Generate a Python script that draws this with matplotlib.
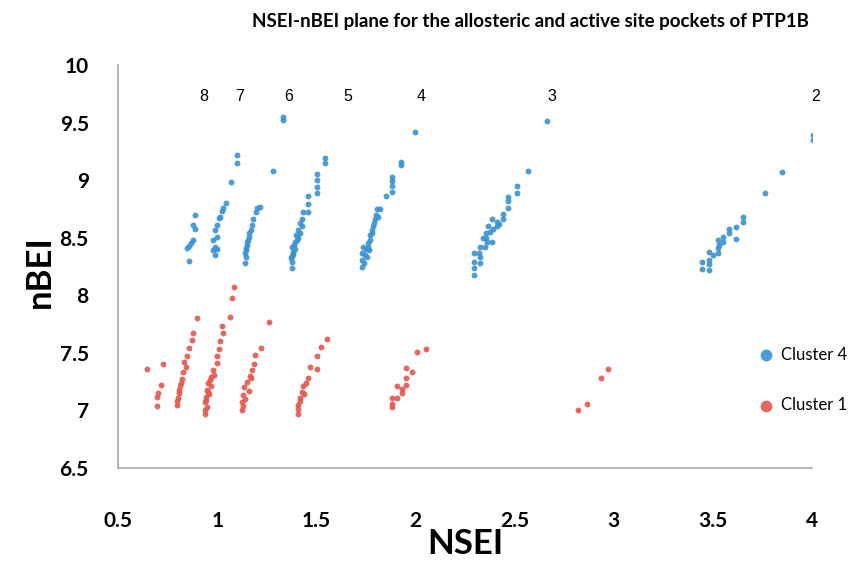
import matplotlib.pyplot as plt

# Cluster 4 (blue), group by group
c4_x = [0.89, 0.88, 0.89, 0.88, 0.87, 0.86, 0.85, 0.86,
        1.045, 1.03, 1.024, 1.014, 1.009, 0.999, 0.989, 0.999, 0.979, 0.989, 0.999, 0.979, 0.989, 1.07, 1.10, 1.10,
        1.216, 1.201, 1.196, 1.181, 1.176, 1.171, 1.161, 1.156, 1.151, 1.146, 1.14, 1.146, 1.14, 1.15, 1.16, 1.145, 1.28,
        1.332, 1.332, 1.544, 1.544, 1.504, 1.504, 1.504, 1.504, 1.458, 1.458, 1.433, 1.458, 1.428, 1.428, 1.418, 1.408,
        1.393, 1.377, 1.382, 1.377, 1.377, 1.377, 1.39, 1.40, 1.41, 1.42, 1.37, 1.385, 1.395, 1.405,
        2.0, 1.927, 1.927, 1.882, 1.882, 1.882, 1.882, 1.851, 1.821, 1.806, 1.811, 1.796, 1.786, 1.781, 1.771, 1.761,
        1.736, 1.731, 1.731, 1.731, 1.745, 1.75, 1.76, 1.77, 1.78, 1.74, 1.755, 1.765, 1.79, 1.80,
        2.663, 2.568, 2.512, 2.512, 2.467, 2.467, 2.467, 2.441, 2.441, 2.411, 2.386, 2.411, 2.366, 2.376, 2.356,
        2.386, 2.356, 2.361, 2.35, 2.326, 2.321, 2.326, 2.326, 2.296, 2.296, 2.296, 2.296, 2.34, 2.39, 2.42,
        4.005, 4.005, 3.848, 3.763, 3.652, 3.652, 3.617, 3.581, 3.617, 3.581, 3.551, 3.551, 3.526, 3.526, 3.526,
        3.48, 3.48, 3.48, 3.48, 3.445, 3.445, 3.50, 3.53]
c4_y = [8.70, 8.61, 8.58, 8.48, 8.45, 8.43, 8.41, 8.30,
        8.80, 8.76, 8.73, 8.68, 8.67, 8.61, 8.57, 8.51, 8.48, 8.42, 8.40, 8.39, 8.35, 8.98, 9.15, 9.22,
        8.77, 8.76, 8.72, 8.66, 8.61, 8.57, 8.51, 8.48, 8.44, 8.41, 8.37, 8.33, 8.28, 8.46, 8.54, 8.39, 9.08,
        9.55, 9.52, 9.19, 9.15, 9.05, 9.00, 8.94, 8.89, 8.86, 8.79, 8.72, 8.72, 8.66, 8.60, 8.54, 8.50,
        8.46, 8.42, 8.38, 8.34, 8.29, 8.24, 8.44, 8.52, 8.57, 8.63, 8.32, 8.36, 8.40, 8.48,
        9.42, 9.16, 9.13, 9.03, 8.99, 8.95, 8.90, 8.86, 8.75, 8.75, 8.68, 8.66, 8.60, 8.54, 8.48, 8.42,
        8.42, 8.37, 8.31, 8.25, 8.35, 8.40, 8.45, 8.52, 8.57, 8.28, 8.33, 8.39, 8.63, 8.70,
        9.51, 9.08, 8.95, 8.89, 8.85, 8.82, 8.76, 8.71, 8.66, 8.64, 8.66, 8.60, 8.60, 8.55, 8.54,
        8.46, 8.50, 8.46, 8.42, 8.42, 8.37, 8.33, 8.28, 8.37, 8.29, 8.24, 8.18, 8.50, 8.58, 8.62,
        9.39, 9.35, 9.07, 8.89, 8.68, 8.64, 8.59, 8.58, 8.49, 8.54, 8.51, 8.46, 8.48, 8.41, 8.37,
        8.38, 8.31, 8.27, 8.22, 8.29, 8.23, 8.35, 8.44]

# Cluster 1 (red)
c1_x = [0.646, 0.727,
        0.717, 0.702, 0.697, 0.697,
        0.898, 0.878, 0.873, 0.858, 0.848, 0.843, 0.828, 0.823, 0.813, 0.808, 0.803, 0.798, 0.80, 0.81, 0.82, 0.835,
        1.085, 1.075, 1.065, 1.024, 1.029, 1.014, 1.009, 0.999, 0.999, 0.979, 0.969, 0.954, 0.949, 0.944, 0.939,
        0.939, 0.939, 0.95, 0.96, 0.97, 0.985, 0.945, 0.955, 0.965,
        1.261, 1.221, 1.191, 1.186, 1.176, 1.166, 1.151, 1.136, 1.131, 1.126, 1.126, 1.13, 1.14, 1.16, 1.17,
        1.554, 1.524, 1.504, 1.504, 1.468, 1.458, 1.433, 1.428, 1.418, 1.408, 1.408, 1.41, 1.42, 1.44, 1.45,
        2.053, 2.008, 1.983, 1.952, 1.952, 1.952, 1.932, 1.932, 1.907, 1.907, 1.882, 1.882, 1.882,
        2.971, 2.936, 2.865, 2.82]
c1_y = [7.36, 7.40,
        7.22, 7.15, 7.12, 7.04,
        7.80, 7.67, 7.61, 7.54, 7.47, 7.38, 7.33, 7.27, 7.21, 7.15, 7.11, 7.05, 7.08, 7.18, 7.24, 7.42,
        8.07, 7.98, 7.81, 7.73, 7.67, 7.60, 7.53, 7.47, 7.41, 7.35, 7.29, 7.24, 7.18, 7.12, 7.07,
        7.00, 6.97, 7.03, 7.14, 7.21, 7.31, 7.09, 7.16, 7.26,
        7.77, 7.54, 7.48, 7.40, 7.35, 7.30, 7.25, 7.20, 7.13, 7.07, 7.00, 7.04, 7.10, 7.17, 7.28,
        7.62, 7.55, 7.47, 7.36, 7.38, 7.28, 7.21, 7.16, 7.11, 7.05, 6.97, 7.01, 7.08, 7.14, 7.24,
        7.53, 7.51, 7.33, 7.37, 7.28, 7.22, 7.19, 7.15, 7.21, 7.11, 7.11, 7.06, 7.03,
        7.36, 7.28, 7.06, 7.00]

# group labels on top of the plot
grp_labels = ['8', '7', '6', '5', '4', '3', '2']
grp_x = [0.934, 1.115, 1.36, 1.66, 2.03, 2.69, 4.02]
grp_y = 9.73

blue = '#3a93d0'
red = '#e3584f'

fig = plt.figure(figsize=(8.57, 5.61), dpi=100)
ax = fig.add_axes([0.1377, 0.1658, 0.8098, 0.7183])

ax.scatter(c4_x, c4_y, s=18, color=blue, alpha=0.9, linewidths=0, label='Cluster 4')
ax.scatter(c1_x, c1_y, s=18, color=red, alpha=0.9, linewidths=0, label='Cluster 1')

for t, gx in zip(grp_labels, grp_x):
    ax.text(gx, grp_y, t, ha='center', va='center', fontsize=11.5, family='Liberation Sans')

ax.set_xlim(0.5, 4)
ax.set_ylim(6.5, 10)
ax.set_xticks([0.5, 1, 1.5, 2, 2.5, 3, 3.5, 4])
ax.set_xticklabels(['0.5', '1', '1.5', '2', '2.5', '3', '3.5', '4'])
ax.set_yticks([6.5, 7, 7.5, 8, 8.5, 9, 9.5, 10])
ax.set_yticklabels(['6.5', '7', '7.5', '8', '8.5', '9', '9.5', '10'])
ax.tick_params(length=0, labelsize=15)
ax.tick_params(axis='x', pad=31)
ax.tick_params(axis='y', pad=21)
for lab in ax.get_xticklabels() + ax.get_yticklabels():
    lab.set_fontweight('bold')
    lab.set_family('Lato')

for s in ['top', 'right']:
    ax.spines[s].set_visible(False)
for s in ['left', 'bottom']:
    ax.spines[s].set_color('#a6a6a6')
    ax.spines[s].set_linewidth(1.2)

fig.text(40 / 857, 1 - 272 / 561, 'nBEI', rotation=90, ha='center', va='center',
         fontsize=25, fontweight='bold', family='Lato')
fig.text(465 / 857, 1 / 561, 'NSEI', ha='center', va='bottom',
         fontsize=25, fontweight='bold', family='Lato')
fig.text(530 / 857, 1 - 22 / 561,
         'NSEI-nBEI plane for the allosteric and active site pockets of PTP1B',
         ha='center', va='center', fontsize=13.5, fontweight='bold', family='Lato')

leg = fig.legend(loc='center left', bbox_to_anchor=(758 / 857, 1 - 380 / 561),
                 frameon=False, markerscale=2.0, handlelength=1.0, handletextpad=0.4,
                 labelspacing=2.1, prop={'family': 'Lato', 'size': 12}, borderaxespad=0,
                 borderpad=0)

fig.savefig('out.png', dpi=100)
